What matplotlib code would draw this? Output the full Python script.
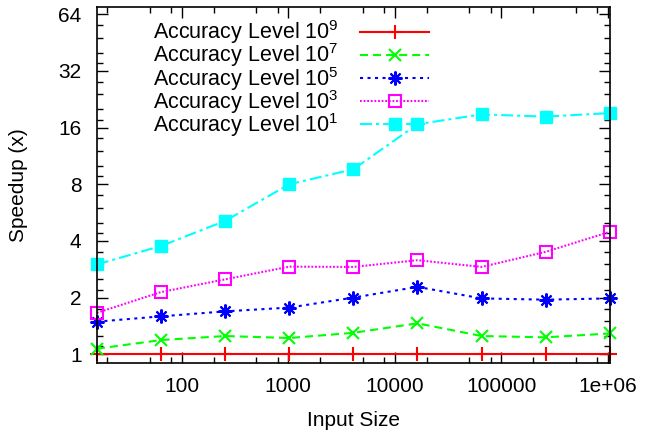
"""
plot.py

Speedup versus input size for several accuracy levels, drawn in the
style of a gnuplot png (log x axis, log2 y axis, ticks on all sides).

Output:
    - out.png
"""

import numpy as np
import matplotlib

matplotlib.use("Agg")
import matplotlib.pyplot as plt
from matplotlib.ticker import FixedLocator, FixedFormatter, NullFormatter


# data
input_sizes = [16, 64, 256, 1024, 4096, 16384, 65536, 262144, 1048576]

speedup_acc9 = [1.0, 1.0, 1.0, 1.0, 1.0, 1.0, 1.0, 1.0, 1.0]
speedup_acc7 = [1.07, 1.19, 1.25, 1.22, 1.30, 1.46, 1.25, 1.23, 1.29]
speedup_acc5 = [1.49, 1.59, 1.69, 1.77, 2.00, 2.28, 1.98, 1.95, 1.98]
speedup_acc3 = [1.66, 2.14, 2.50, 2.92, 2.91, 3.16, 2.91, 3.50, 4.47]
speedup_acc1 = [3.00, 3.76, 5.11, 8.00, 9.61, 16.67, 18.8, 18.3, 19.1]

series_labels = [
    "Accuracy Level 10$^{9}$",
    "Accuracy Level 10$^{7}$",
    "Accuracy Level 10$^{5}$",
    "Accuracy Level 10$^{3}$",
    "Accuracy Level 10$^{1}$",
]

x_tick_values = [100, 1000, 10000, 100000, 1000000]
x_tick_labels = ["100", "1000", "10000", "100000", "1e+06"]
y_tick_values = [1, 2, 4, 8, 16, 32, 64]
y_tick_labels = ["1", "2", "4", "8", "16", "32", "64"]


def setup_style() -> None:
    """Fonts and line defaults close to the gnuplot look."""
    plt.rcParams["font.family"] = ["Liberation Sans", "DejaVu Sans"]
    plt.rcParams["mathtext.default"] = "regular"
    plt.rcParams["lines.scale_dashes"] = False
    plt.rcParams["axes.linewidth"] = 1.2


def plot_speedup(output_path: str) -> None:
    """
    Draw the five speedup series and save the figure.

    Args:
        output_path (str): Where to save the png.
    """
    fig = plt.figure(figsize=(6.46, 4.32), dpi=100)
    ax = fig.add_axes([0.150, 0.160, 0.794, 0.824])

    styles = [
        dict(color="#ff0000", marker="+", ms=10, mew=1.5, ls="-"),
        dict(color="#00ff00", marker="x", ms=8, mew=1.5, dashes=(5.8, 3.6)),
        dict(color="#0000ff", marker=(8, 2, 0), ms=10, mew=1.5, dashes=(2.2, 3.2)),
        dict(color="#ff00ff", marker="s", ms=8.5, mew=1.5, mfc="none", dashes=(1.3, 1.3)),
        dict(color="#00ffff", marker="s", ms=9, mew=1.0, dashes=(8.6, 2.9, 2.2, 2.9)),
    ]
    all_series = [speedup_acc9, speedup_acc7, speedup_acc5, speedup_acc3, speedup_acc1]

    for values, label, style in zip(all_series, series_labels, styles):
        ax.plot(input_sizes, values, label=label, lw=1.5, clip_on=False, **style)

    ax.set_xscale("log")
    ax.set_yscale("log", base=2)
    ax.set_xlim(16, 1048576)
    ax.set_ylim(0.9, 70)

    ax.xaxis.set_major_locator(FixedLocator(x_tick_values))
    ax.xaxis.set_major_formatter(FixedFormatter(x_tick_labels))
    x_minor = [m * 10.0**e for e in range(1, 7) for m in (2, 5, 8)]
    ax.xaxis.set_minor_locator(FixedLocator(x_minor))
    ax.xaxis.set_minor_formatter(NullFormatter())

    ax.yaxis.set_major_locator(FixedLocator(y_tick_values))
    ax.yaxis.set_major_formatter(FixedFormatter(y_tick_labels))
    y_minor = [2.0**e * m for e in range(-1, 7) for m in (1.1, 1.25, 1.5, 1.75)]
    ax.yaxis.set_minor_locator(FixedLocator(y_minor))
    ax.yaxis.set_minor_formatter(NullFormatter())

    ax.tick_params(which="both", direction="in", top=True, right=True,
                   width=1.0, labelsize=15)
    ax.tick_params(which="major", length=8)
    ax.tick_params(axis="y", which="major", pad=11)
    ax.tick_params(axis="x", which="major", pad=10)
    ax.tick_params(which="minor", length=4.5)

    ax.set_xlabel("Input Size", fontsize=15, labelpad=11)
    ax.set_ylabel("Speedup (x)", fontsize=15, labelpad=22)

    ax.legend(
        loc="upper left",
        bbox_to_anchor=(0.08, 1.01),
        frameon=False,
        markerfirst=False,
        fontsize=15.5,
        handlelength=3.2,
        handletextpad=1.0,
        labelspacing=-0.22,
        borderaxespad=0.3,
    )

    fig.savefig(output_path, dpi=100)


def main() -> None:
    setup_style()
    plot_speedup("out.png")


if __name__ == "__main__":
    main()
